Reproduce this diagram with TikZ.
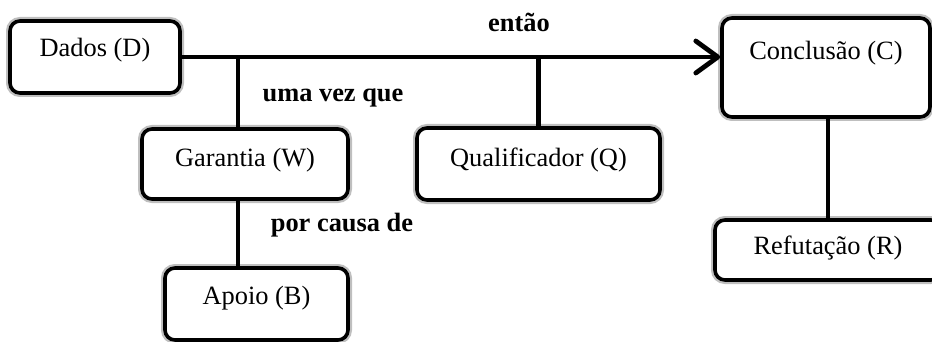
\documentclass[tikz,border=0pt]{standalone}
\usepackage{fontspec}
\setmainfont{Liberation Serif}
\usepackage{tikz}
\usetikzlibrary{arrows.meta}

\begin{document}
\begin{tikzpicture}
		[x=0.5pt, y=-0.5pt,
		box/.style={rectangle, rounded corners=5pt, draw=black, line width=1.8pt, fill=white, inner sep=0pt,
			preaction={draw=gray!50, line width=4pt}, font=\fontsize{13.2}{15}\selectfont},
		link/.style={line width=2.4pt},
		word/.style={font=\fontsize{13.2}{15}\selectfont\bfseries}]
		\useasboundingbox (0,0) rectangle (932,342);
		\node[box, minimum width=85pt, text height=18pt, text depth=18pt] (dados) at (95,57) {Dados (D)};
		\node[box, minimum width=104pt, text height=21pt, text depth=28.5pt] (concl) at (826,67.5) {Conclusão (C)};
		\node[box, minimum width=103pt, text height=19pt, text depth=16pt] (garantia) at (245,164) {Garantia (W)};
		\node[box, minimum width=91.5pt, text height=18pt, text depth=18pt] (apoio) at (256.5,304) {Apoio (B)};
		\node[box, minimum width=121.5pt, text height=19.5pt, text depth=16.5pt] (qualif) at (538.5,164) {Qualificador (Q)};
		\node[box, minimum width=113pt, text height=17pt, text depth=13pt] (refut) at (828,250) {Refutação (R)};

		\node[word] (entao) at (519,22) {então};
		\node[word] (umavez) at (333,98) {uma vez que};
		\node[word] (porcausa) at (342,225) {por causa de};

		\coordinate (wjoin) at (238,57);

		\draw[link, -{Straight Barb[round, length=11pt, width=16pt]}] (dados.east) -- (dados.east -| concl.west);
		\draw[link] (wjoin) -- (wjoin |- garantia.north);
		\draw[link] (wjoin |- garantia.south) -- (wjoin |- apoio.north);
		\draw[link] (qualif.north) -- (qualif.north |- dados.east);
		\draw[link] (refut.north |- concl.south) -- (refut.north);
	\end{tikzpicture}
\end{document}
